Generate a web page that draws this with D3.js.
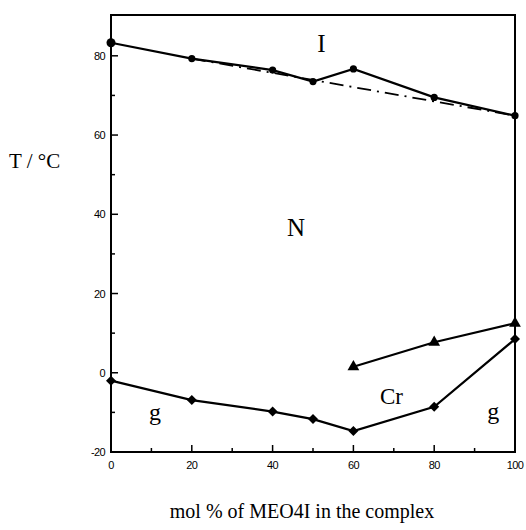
<!DOCTYPE html>
<html>
<head>
<meta charset="utf-8">
<script src="https://cdn.jsdelivr.net/npm/d3@7"></script>
<style>
    body { margin: 0; background: #fff; }
    .tick-label { font-family: "Liberation Sans", Arial, sans-serif; font-size: 11px; letter-spacing: -0.6px; }
    .phase { font-family: "Liberation Serif", "Times New Roman", serif; }
</style>
</head>
<body>
<div id="chart"></div>
<script>
// Composition (mol % of MEO4I)
const xUpper = [0, 20, 40, 50, 60, 80, 100];
const tUpper = [83.3, 79.3, 76.4, 73.5, 76.7, 69.5, 64.9];   // N-I transition (circles)

const xLower = [0, 20, 40, 50, 60, 80, 100];
const tLower = [-2.0, -6.9, -9.8, -11.7, -14.7, -8.6, 8.5]; // glass line (diamonds)

const xCr = [60, 80, 100];
const tCr = [1.5, 7.7, 12.5];                                // crystal line (triangles)

const xIdeal = [20, 100];
const tIdeal = [79.3, 64.9];                                 // dash-dot ideal line

const xTicks = [0, 20, 40, 60, 80, 100];
const yTicks = [-20, 0, 20, 40, 60, 80];

const phaseLabels = [
    { text: "I", x: 52.1, y: 81.0, size: 25 },
    { text: "N", x: 45.8, y: 34.5, size: 25 },
    { text: "Cr", x: 69.4, y: -7.9, size: 23 },
    { text: "g", x: 10.9, y: -11.9, size: 24 },
    { text: "g", x: 94.6, y: -11.7, size: 24 }
];

const width = 526, height = 530;
const margin = { top: 15, right: 11, bottom: 78, left: 111 };
const w = width - margin.left - margin.right;
const h = height - margin.top - margin.bottom;

const svg = d3.select("#chart").append("svg")
    .attr("width", width)
    .attr("height", height);

const g = svg.append("g").attr("transform", `translate(${margin.left},${margin.top})`);

const x = d3.scaleLinear().domain([0, 100]).range([0, w]);
const y = d3.scaleLinear().domain([-20, 90.3]).range([h, 0]);

// Frame
g.append("rect")
    .attr("x", 0).attr("y", 0).attr("width", w).attr("height", h)
    .attr("fill", "none").attr("stroke", "#000").attr("stroke-width", 2);

// Y axis ticks (inside) and labels
const yAxis = g.append("g");
yAxis.selectAll("line.minor")
    .data(d3.range(-10, 90, 20))
    .enter().append("line")
    .attr("x1", 0).attr("x2", 4)
    .attr("y1", d => y(d)).attr("y2", d => y(d))
    .attr("stroke", "#000").attr("stroke-width", 1.5);
yAxis.selectAll("line.major")
    .data(yTicks)
    .enter().append("line")
    .attr("x1", 0).attr("x2", 7)
    .attr("y1", d => y(d)).attr("y2", d => y(d))
    .attr("stroke", "#000").attr("stroke-width", 1.5);
yAxis.selectAll("text")
    .data(yTicks)
    .enter().append("text")
    .attr("class", "tick-label")
    .attr("x", -6)
    .attr("y", d => y(d) + 4)
    .attr("text-anchor", "end")
    .text(d => d);

// X axis ticks (inside) and labels
const xAxis = g.append("g").attr("transform", `translate(0,${h})`);
xAxis.selectAll("line.minor")
    .data(d3.range(10, 100, 20))
    .enter().append("line")
    .attr("x1", d => x(d)).attr("x2", d => x(d))
    .attr("y1", 0).attr("y2", -4)
    .attr("stroke", "#000").attr("stroke-width", 1.5);
xAxis.selectAll("line.major")
    .data(xTicks)
    .enter().append("line")
    .attr("x1", d => x(d)).attr("x2", d => x(d))
    .attr("y1", 0).attr("y2", -7)
    .attr("stroke", "#000").attr("stroke-width", 1.5);
xAxis.selectAll("text")
    .data(xTicks)
    .enter().append("text")
    .attr("class", "tick-label")
    .attr("x", d => x(d))
    .attr("y", 17)
    .attr("text-anchor", "middle")
    .text(d => d);

const line = d3.line()
    .x(d => x(d[0]))
    .y(d => y(d[1]));

// Dash-dot ideal line
g.append("path")
    .datum(d3.zip(xIdeal, tIdeal))
    .attr("d", line)
    .attr("fill", "none")
    .attr("stroke", "#000")
    .attr("stroke-width", 1.8)
    .attr("stroke-dasharray", "14,6,2,6");

// Solid lines
[[xUpper, tUpper], [xLower, tLower], [xCr, tCr]].forEach(([xs, ts]) => {
    g.append("path")
        .datum(d3.zip(xs, ts))
        .attr("d", line)
        .attr("fill", "none")
        .attr("stroke", "#000")
        .attr("stroke-width", 2.2);
});

// Markers
g.selectAll("circle.upper")
    .data(d3.zip(xUpper, tUpper))
    .enter().append("circle")
    .attr("cx", d => x(d[0]))
    .attr("cy", d => y(d[1]))
    .attr("r", (d, i) => i === 0 ? 4.5 : 3.6)
    .attr("fill", "#000");

g.selectAll("path.diamond")
    .data(d3.zip(xLower, tLower))
    .enter().append("path")
    .attr("d", d3.symbol().type(d3.symbolSquare).size(50))
    .attr("transform", d => `translate(${x(d[0])},${y(d[1])}) rotate(45)`)
    .attr("fill", "#000");

g.selectAll("path.tri")
    .data(d3.zip(xCr, tCr))
    .enter().append("path")
    .attr("d", d3.symbol().type(d3.symbolTriangle).size(60))
    .attr("transform", d => `translate(${x(d[0])},${y(d[1])})`)
    .attr("fill", "#000");

// Phase labels
g.selectAll("text.phase")
    .data(phaseLabels)
    .enter().append("text")
    .attr("class", "phase")
    .attr("x", d => x(d.x))
    .attr("y", d => y(d.y))
    .attr("text-anchor", "middle")
    .style("font-size", d => d.size + "px")
    .text(d => d.text);

// Axis titles
svg.append("text")
    .attr("class", "phase")
    .attr("x", 9)
    .attr("y", 168)
    .style("font-size", "21px")
    .text("T / °C");

svg.append("text")
    .attr("class", "phase")
    .attr("x", 302)
    .attr("y", 518)
    .attr("text-anchor", "middle")
    .style("font-size", "20px")
    .text("mol % of MEO4I in the complex");
</script>
</body>
</html>
